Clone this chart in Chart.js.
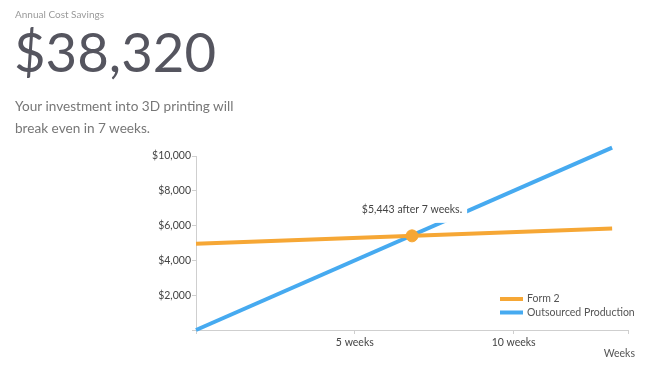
<!DOCTYPE html>
<html>
<head>
<meta charset="utf-8">
<script src="https://cdn.jsdelivr.net/npm/chart.js@4"></script>
<style>
  body { margin: 0; background: #fff; font-family: Lato, sans-serif; }
  #wrap { position: relative; width: 664px; height: 374px; overflow: hidden; }
  #chartCanvas { position: absolute; left: 0; top: 0; }
  .kicker { position: absolute; left: 15px; top: 8px; font-size: 10px; color: #9a9a9a; }
  .big { position: absolute; left: 14px; top: 21px; font-size: 54.5px; line-height: 60px; color: #55555f; }
  .sub { position: absolute; left: 15px; top: 95px; font-size: 13.6px; line-height: 22px; color: #777; width: 260px; }
</style>
</head>
<body>
<div id="wrap">
  <canvas id="chartCanvas" width="664" height="374"></canvas>
  <div class="kicker">Annual Cost Savings</div>
  <div class="big">$38,320</div>
  <div class="sub">Your investment into 3D printing will<br>break even in 7 weeks.</div>
</div>
<script>
// --- data ---
const weeks = [0, 13.1];
const form2Cost = [4950, 5835];
const outsourcedCost = [0, 10480];
const breakEvenWeek = [6.8];
const breakEvenCost = [5410];
const breakEvenText = "$5,443 after 7 weeks.";
const seriesNames = ["Form 2", "Outsourced Production"];
const xTicks = [0, 5, 10, 13.6];
const yTicks = [0, 2000, 4000, 6000, 8000, 10000];

const ORANGE = "#f6a735";
const BLUE = "#46aaf0";
const AXIS = "#cfcfcf";
const TEXT = "#444";
const FONT = "10.5px Lato, sans-serif";

const toPoints = (xs, ys) => xs.map((x, i) => ({ x, y: ys[i] }));

// label box over the break-even point, legend and "Weeks" title
const extras = {
  id: "extras",
  afterDatasetsDraw(chart) {
    const { ctx, chartArea, scales } = chart;
    const px = scales.x.getPixelForValue(breakEvenWeek[0]);
    const py = scales.y.getPixelForValue(breakEvenCost[0]);

    ctx.save();
    ctx.font = FONT;
    const w = ctx.measureText(breakEvenText).width;
    ctx.fillStyle = "#fff";
    ctx.fillRect(px - w / 2 - 5, py - 37, w + 10, 24);
    ctx.fillStyle = TEXT;
    ctx.textAlign = "center";
    ctx.textBaseline = "middle";
    ctx.fillText(breakEvenText, px, py - 26);

    // legend, bottom right of the plot
    ctx.textAlign = "left";
    const colors = [ORANGE, BLUE];
    seriesNames.forEach((name, i) => {
      const ly = chartArea.bottom - 31 + i * 13.5;
      const lx = chartArea.right - 128;
      ctx.strokeStyle = colors[i];
      ctx.lineWidth = 4;
      ctx.beginPath();
      ctx.moveTo(lx, ly);
      ctx.lineTo(lx + 23, ly);
      ctx.stroke();
      ctx.fillStyle = "#555";
      ctx.fillText(name, lx + 27, ly);
    });

    ctx.textAlign = "right";
    ctx.fillStyle = "#555";
    ctx.fillText("Weeks", chartArea.right + 7, chartArea.bottom + 24);
    ctx.restore();
  }
};

new Chart(document.getElementById("chartCanvas"), {
  type: "line",
  data: {
    datasets: [
      {
        type: "scatter",
        label: "break-even",
        data: toPoints(breakEvenWeek, breakEvenCost),
        backgroundColor: ORANGE,
        borderColor: ORANGE,
        pointRadius: 6,
        order: 0
      },
      {
        label: seriesNames[0],
        data: toPoints(weeks, form2Cost),
        borderColor: ORANGE,
        borderWidth: 4,
        pointRadius: 0,
        clip: false,
        order: 1
      },
      {
        label: seriesNames[1],
        data: toPoints(weeks, outsourcedCost),
        borderColor: BLUE,
        borderWidth: 4,
        pointRadius: 0,
        clip: false,
        order: 2
      }
    ]
  },
  options: {
    responsive: false,
    animation: false,
    layout: { padding: { left: 146, top: 156, right: 36, bottom: 24 } },
    plugins: { legend: { display: false }, tooltip: { enabled: false } },
    scales: {
      x: {
        type: "linear",
        min: 0,
        max: 13.6,
        afterBuildTicks: s => { s.ticks = xTicks.map(value => ({ value })); },
        afterFit: s => { s.height = 20; },
        grid: { drawOnChartArea: false, tickLength: 4, color: AXIS },
        border: { color: AXIS },
        ticks: {
          color: TEXT,
          font: { family: "Lato", size: 10.5 },
          padding: 2,
          maxRotation: 0,
          autoSkip: false,
          callback: v => (v === 5 || v === 10) ? v + " weeks" : ""
        }
      },
      y: {
        min: 0,
        max: 10000,
        afterBuildTicks: s => { s.ticks = yTicks.map(value => ({ value })); },
        afterFit: s => { s.width = 50; },
        grid: { drawOnChartArea: false, tickLength: 4, color: AXIS },
        border: { color: AXIS },
        ticks: {
          color: TEXT,
          font: { family: "Lato", size: 10.5 },
          padding: 1,
          callback: v => v === 0 ? "" : "$" + v.toLocaleString("en-US")
        }
      }
    }
  },
  plugins: [extras]
});
</script>
</body>
</html>
